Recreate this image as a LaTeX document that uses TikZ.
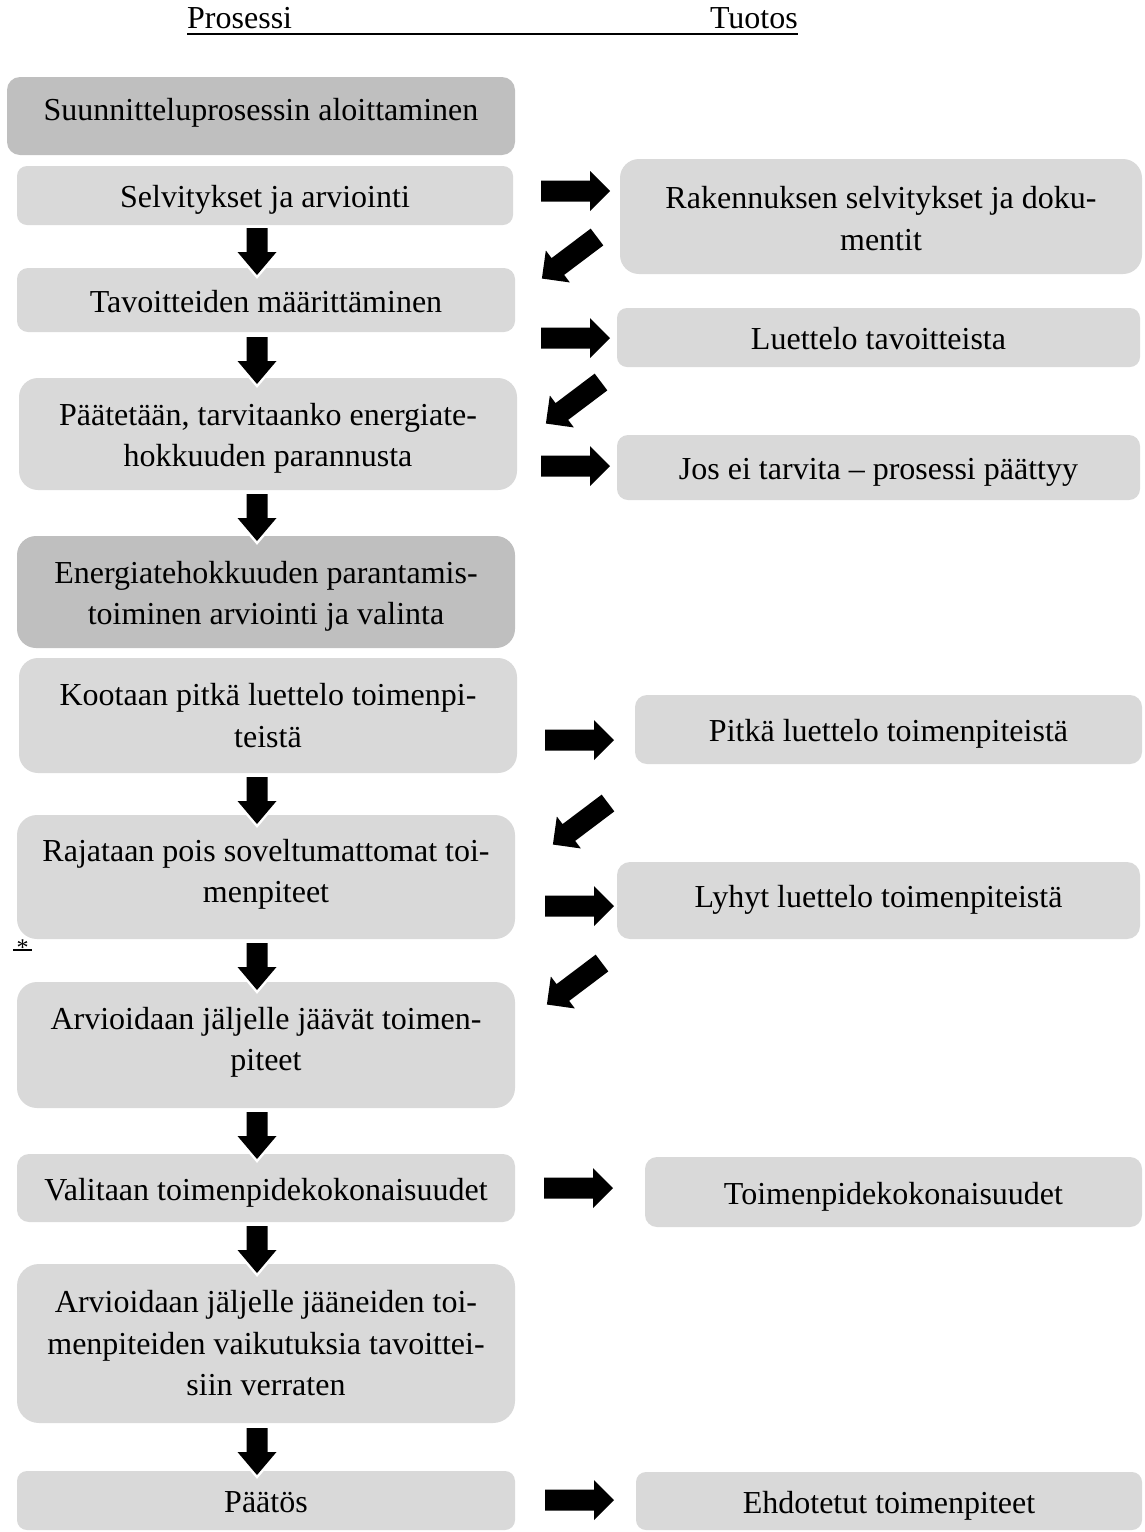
\documentclass[tikz,border=0pt]{standalone}
\usepackage{fontspec}
\setmainfont{Liberation Serif}
\usetikzlibrary{calc}
\definecolor{lgray}{HTML}{D9D9D9}
\definecolor{dgray}{HTML}{BFBFBF}
\begin{document}
\begin{tikzpicture}[x=1pt,y=-1pt,
  txt/.style={inner sep=0pt, align=center, font=\fontsize{32}{41.5}\selectfont,
    execute at begin node={\rule{0pt}{37pt}}, execute at end node=\strut},
  box/.style={txt, rectangle, fill=lgray},
  dbox/.style={box, fill=dgray},
  hdr/.style={inner sep=0pt, font=\fontsize{32}{38}\selectfont},
  blk/.style={fill=black, preaction={draw=white, line width=5pt, line join=miter}},
  pics/rarr/.style={code={\path[blk] (0,-10.5) -- (49,-10.5) -- (49,-20) -- (69,0) -- (49,20) -- (49,10.5) -- (0,10.5) -- cycle;}},
  pics/darr/.style={code={\path[blk] (0,-10.5) -- (24,-10.5) -- (24,-19.5) -- (47,0) -- (24,19.5) -- (24,10.5) -- (0,10.5) -- cycle;}},
]
\useasboundingbox (0,0) rectangle (1144,1532);

% header
\node[hdr, anchor=base west] (hdrP) at (187,28) {Prosessi};
\node[hdr, anchor=base east] (hdrT) at (798,28) {Tuotos};
\draw[line width=1.5pt] ([yshift=-6pt]hdrP.base west) -- ([yshift=-6pt]hdrT.base east);

% left column
\node[dbox, minimum width=508pt, minimum height=78pt, rounded corners=13pt] (b1) at (261,116) {};
\node[txt] (t1) at ([yshift=8pt]b1.center) {Suunnitteluprosessin aloittaminen};
\node[box, minimum width=496pt, minimum height=59pt, rounded corners=10pt] (b2) at (265,195.5) {Selvitykset ja arviointi};
\node[box, minimum width=498pt, minimum height=64pt, rounded corners=11pt] (b3) at (266,300) {Tavoitteiden määrittäminen};
\node[box, minimum width=498pt, minimum height=112pt, rounded corners=19pt] (b4) at (268,434) {};
\node[txt] (t4) at ([yshift=-7pt]b4.center) {Päätetään, tarvitaanko energiate-\\hokkuuden parannusta};
\node[dbox, minimum width=498pt, minimum height=112pt, rounded corners=19pt] (b5) at (266,592) {};
\node[txt] (t5) at ([yshift=-7pt]b5.center) {Energiatehokkuuden parantamis-\\toiminen arviointi ja valinta};
\node[box, minimum width=498pt, minimum height=115pt, rounded corners=19pt] (b6) at (268,715.5) {};
\node[txt] (t6) at ([yshift=-6pt]b6.center) {Kootaan pitkä luettelo toimenpi-\\teistä};
\node[box, minimum width=498pt, minimum height=124pt, rounded corners=20pt] (b7) at (266,877) {Rajataan pois soveltumattomat toi-\\menpiteet};
\node[box, minimum width=498pt, minimum height=126pt, rounded corners=20pt] (b8) at (266,1045) {Arvioidaan jäljelle jäävät toimen-\\piteet};
\node[box, minimum width=498pt, minimum height=68pt, rounded corners=12pt] (b9) at (266,1188) {Valitaan toimenpidekokonaisuudet};
\node[box, minimum width=498pt, minimum height=159pt, rounded corners=22pt] (b10) at (266,1343.5) {};
\node[txt] (t10) at ([yshift=-6pt]b10.center) {Arvioidaan jäljelle jääneiden toi-\\menpiteiden vaikutuksia tavoittei-\\siin verraten};
\node[box, minimum width=498pt, minimum height=59pt, rounded corners=10pt] (b11) at (266,1500.5) {Päätös};

% right column
\node[box, minimum width=522pt, minimum height=115pt, rounded corners=19pt] (oA) at (881,216.5) {};
\node[txt] (tA) at ([yshift=-8pt]oA.center) {Rakennuksen selvitykset ja doku-\\mentit};
\node[box, minimum width=523pt, minimum height=59pt, rounded corners=10pt] (oB) at (878.5,337.5) {Luettelo tavoitteista};
\node[box, minimum width=523pt, minimum height=65pt, rounded corners=11pt] (oC) at (878.5,467.5) {Jos ei tarvita – prosessi päättyy};
\node[box, minimum width=507pt, minimum height=69pt, rounded corners=12pt] (oD) at (888.5,729.5) {Pitkä luettelo toimenpiteistä};
\node[box, minimum width=523pt, minimum height=77pt, rounded corners=13pt] (oE) at (878.5,900.5) {};
\node[txt] (tE) at ([yshift=5pt]oE.center) {Lyhyt luettelo toimenpiteistä};
\node[box, minimum width=497pt, minimum height=70pt, rounded corners=12pt] (oF) at (893.5,1192) {Toimenpidekokonaisuudet};
\node[box, minimum width=506pt, minimum height=58pt, rounded corners=10pt] (oG) at (889,1501) {Ehdotetut toimenpiteet};

% asterisk
\node[inner sep=0pt, anchor=base, font=\fontsize{24}{26}\selectfont] (ast) at (22.5,955) {*};
\draw[line width=1.3pt] ([xshift=-3pt,yshift=5pt]ast.base west) -- ([xshift=3pt,yshift=5pt]ast.base east);

% down arrows
\pic[rotate=-90] at (257,228) {darr};
\pic[rotate=-90] at (257,337) {darr};
\pic[rotate=-90] at (257,494) {darr};
\pic[rotate=-90] at (257,777) {darr};
\pic[rotate=-90] at (257,943) {darr};
\pic[rotate=-90] at (257,1112) {darr};
\pic[rotate=-90] at (257,1226) {darr};
\pic[rotate=-90] at (257,1428) {darr};

% right arrows
\pic at (541,191) {rarr};
\pic at (541,338) {rarr};
\pic at (541,466) {rarr};
\pic at (545,740) {rarr};
\pic at (545,906) {rarr};
\pic at (544,1188) {rarr};
\pic at (545,1500) {rarr};

% diagonal arrows
\pic[rotate=217] at (597,237) {rarr};
\pic[rotate=217] at (601,382) {rarr};
\pic[rotate=217] at (608,803) {rarr};
\pic[rotate=217] at (602,963) {rarr};
\end{tikzpicture}
\end{document}
